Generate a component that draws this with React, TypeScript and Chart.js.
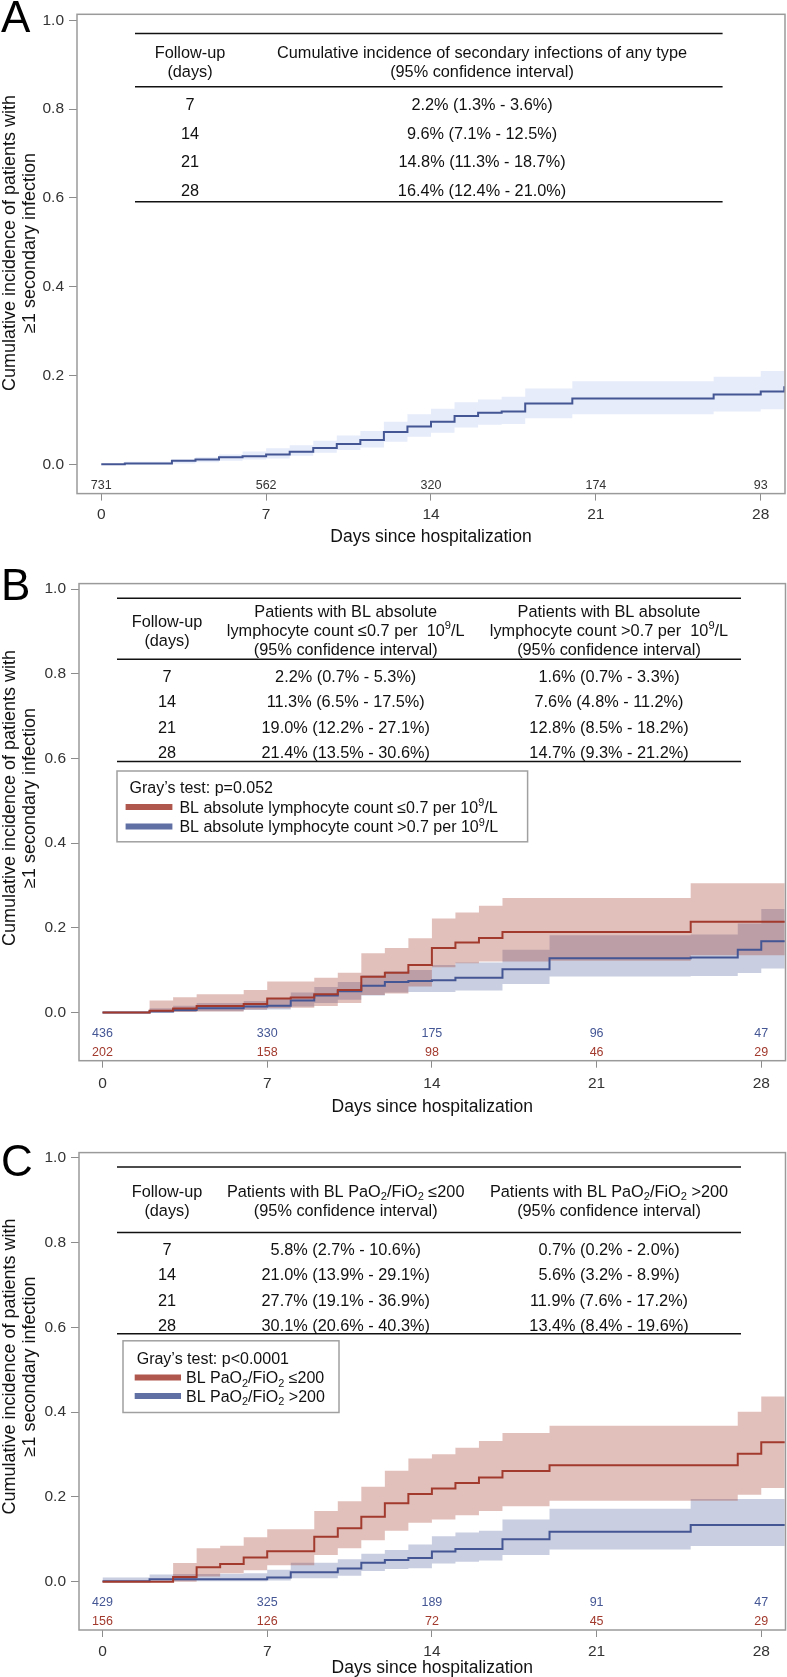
import React, { useEffect, useRef } from 'react';
import { Chart, registerables } from 'chart.js';
Chart.register(...registerables);

const FONT = '"Liberation Sans", Arial, Helvetica, sans-serif';
const BLUE = '#445694';
const RED = '#A23A2E';
const BLUE_BAND_A = 'rgba(80,120,210,0.14)';
const BLUE_BAND = 'rgba(68,86,148,0.29)';
const RED_BAND = 'rgba(162,58,46,0.32)';

const xTicks = [0, 7, 14, 21, 28];
const yTicks = [0, 0.2, 0.4, 0.6, 0.8, 1.0];

// ---------- Panel A ----------
const daysA = [0, 1, 3, 4, 5, 6, 7, 8, 9, 10, 11, 12, 13, 14, 15, 16, 17, 18, 20, 26, 28, 29];
const cifA = [0, 0.002, 0.008, 0.011, 0.016, 0.018, 0.022, 0.028, 0.037, 0.046, 0.055, 0.073, 0.085, 0.096, 0.109, 0.116, 0.119, 0.137, 0.148, 0.157, 0.164, 0.176];
const lowA = [0, 0, 0.002, 0.0045, 0.008, 0.011, 0.013, 0.019, 0.026, 0.032, 0.038, 0.051, 0.062, 0.071, 0.083, 0.089, 0.091, 0.104, 0.113, 0.119, 0.124, 0.13];
const upA = [0, 0.006, 0.011, 0.016, 0.022, 0.029, 0.036, 0.043, 0.053, 0.065, 0.075, 0.096, 0.113, 0.125, 0.14, 0.146, 0.152, 0.171, 0.187, 0.197, 0.21, 0.225];
const atRiskA = [731, 562, 320, 174, 93];

// ---------- Panel B ----------
const daysB = [0, 2, 3, 4, 6, 7, 8, 9, 10, 11, 12, 13, 14, 15, 16, 17, 19, 25, 27, 28, 29];
const cifBLow = [0, 0.004, 0.009, 0.015, 0.02, 0.033, 0.035, 0.043, 0.053, 0.084, 0.094, 0.112, 0.152, 0.165, 0.176, 0.19, 0.19, 0.214, 0.214, 0.214, 0.214];
const loBLow = [0, 0.001, 0.001, 0.002, 0.007, 0.01, 0.011, 0.015, 0.022, 0.041, 0.045, 0.061, 0.107, 0.116, 0.12, 0.12, 0.122, 0.135, 0.135, 0.135, 0.135];
const hiBLow = [0, 0.028, 0.036, 0.043, 0.053, 0.073, 0.073, 0.082, 0.094, 0.14, 0.152, 0.175, 0.222, 0.236, 0.252, 0.27, 0.27, 0.305, 0.305, 0.305, 0.305];
const cifBHigh = [0, 0.002, 0.006, 0.01, 0.014, 0.016, 0.028, 0.04, 0.05, 0.063, 0.072, 0.074, 0.076, 0.082, 0.082, 0.102, 0.128, 0.13, 0.148, 0.168, 0.168];
const loBHigh = [0, 0, 0.001, 0.003, 0.006, 0.007, 0.014, 0.022, 0.03, 0.04, 0.047, 0.048, 0.048, 0.052, 0.052, 0.067, 0.085, 0.086, 0.093, 0.104, 0.104];
const hiBHigh = [0, 0.01, 0.016, 0.022, 0.027, 0.033, 0.047, 0.06, 0.072, 0.088, 0.097, 0.1, 0.112, 0.118, 0.118, 0.148, 0.182, 0.184, 0.21, 0.244, 0.244];
const atRiskBHigh = [436, 330, 175, 96, 47];
const atRiskBLow = [202, 158, 98, 46, 29];

// ---------- Panel C ----------
const daysC = [0, 2, 3, 4, 5, 6, 7, 8, 9, 10, 11, 12, 13, 14, 15, 16, 17, 19, 25, 27, 28, 29];
const cifCLow = [0, 0, 0.011, 0.034, 0.042, 0.057, 0.072, 0.072, 0.106, 0.126, 0.153, 0.185, 0.207, 0.22, 0.233, 0.246, 0.261, 0.275, 0.275, 0.302, 0.329, 0.329];
const loCLow = [0, 0, 0, 0.012, 0.02, 0.027, 0.039, 0.039, 0.063, 0.079, 0.098, 0.12, 0.139, 0.147, 0.157, 0.167, 0.178, 0.191, 0.191, 0.205, 0.221, 0.221];
const hiCLow = [0, 0, 0.044, 0.079, 0.085, 0.105, 0.124, 0.124, 0.167, 0.19, 0.224, 0.262, 0.291, 0.301, 0.316, 0.332, 0.351, 0.368, 0.368, 0.401, 0.437, 0.437];
const cifCHigh = [0.001, 0.006, 0.006, 0.006, 0.006, 0.006, 0.01, 0.022, 0.022, 0.031, 0.045, 0.051, 0.056, 0.071, 0.077, 0.077, 0.1, 0.118, 0.134, 0.134, 0.134, 0.134];
const loCHigh = [0, 0, 0.001, 0.001, 0.001, 0.001, 0.003, 0.008, 0.008, 0.014, 0.025, 0.03, 0.032, 0.043, 0.047, 0.05, 0.063, 0.076, 0.084, 0.084, 0.084, 0.084];
const hiCHigh = [0.01, 0.017, 0.018, 0.018, 0.019, 0.02, 0.028, 0.045, 0.045, 0.053, 0.066, 0.075, 0.088, 0.107, 0.116, 0.12, 0.147, 0.172, 0.195, 0.195, 0.195, 0.195];
const atRiskCHigh = [429, 325, 189, 91, 47];
const atRiskCLow = [156, 126, 72, 45, 29];

// ---------- Tables ----------
const followUp = ['7', '14', '21', '28'];
const tableA = ['2.2% (1.3% - 3.6%)', '9.6% (7.1% - 12.5%)', '14.8% (11.3% - 18.7%)', '16.4% (12.4% - 21.0%)'];
const tableBLow = ['2.2% (0.7% - 5.3%)', '11.3% (6.5% - 17.5%)', '19.0% (12.2% - 27.1%)', '21.4% (13.5% - 30.6%)'];
const tableBHigh = ['1.6% (0.7% - 3.3%)', '7.6% (4.8% - 11.2%)', '12.8% (8.5% - 18.2%)', '14.7% (9.3% - 21.2%)'];
const tableCLow = ['5.8% (2.7% - 10.6%)', '21.0% (13.9% - 29.1%)', '27.7% (19.1% - 36.9%)', '30.1% (20.6% - 40.3%)'];
const tableCHigh = ['0.7% (0.2% - 2.0%)', '5.6% (3.2% - 8.9%)', '11.9% (7.6% - 17.2%)', '13.4% (8.4% - 19.6%)'];

const yTitle = ['Cumulative incidence of patients with', '\u22651 secondary infection'];
const xTitle = 'Days since hospitalization';

type Seg = { text: string; kind: 'n' | 'sup' | 'sub' };
function parseRich(s: string): Seg[] {
  const out: Seg[] = [];
  const re = /([\^_])\{([^}]*)\}/g;
  let last = 0;
  let m: RegExpExecArray | null;
  while ((m = re.exec(s))) {
    if (m.index > last) out.push({ text: s.slice(last, m.index), kind: 'n' });
    out.push({ text: m[2], kind: m[1] === '^' ? 'sup' : 'sub' });
    last = re.lastIndex;
  }
  if (last < s.length) out.push({ text: s.slice(last), kind: 'n' });
  return out;
}

function drawRich(ctx: CanvasRenderingContext2D, s: string, x: number, y: number, size: number, align: 'left' | 'center', color: string) {
  const segs = parseRich(s);
  const small = size * 0.68;
  const widths = segs.map((g) => {
    ctx.font = `${g.kind === 'n' ? size : small}px ${FONT}`;
    return ctx.measureText(g.text).width;
  });
  const total = widths.reduce((a, b) => a + b, 0);
  let cx = align === 'center' ? x - total / 2 : x;
  ctx.fillStyle = color;
  ctx.textAlign = 'left';
  ctx.textBaseline = 'alphabetic';
  const base = y + size * 0.36;
  segs.forEach((g, i) => {
    ctx.font = `${g.kind === 'n' ? size : small}px ${FONT}`;
    const dy = g.kind === 'sup' ? -size * 0.4 : g.kind === 'sub' ? size * 0.22 : 0;
    ctx.fillText(g.text, cx, base + dy);
    cx += widths[i];
  });
}

interface Series { days: number[]; cif: number[]; lo: number[]; hi: number[]; color: string; band: string }
interface TableCfg {
  rules: number[]; x0: number; x1: number;
  colX: number[];
  headers: { lines: string[]; ys: number[] }[];
  rowYs: number[];
  cols: string[][];
}
interface LegendCfg { box: [number, number, number, number]; title: string; titleY: number; titleX: number; swX: [number, number]; textX: number; items: { label: string; color: string; y: number }[] }
interface PanelCfg {
  letter: string; top: number; height: number; frameTop: number; frameBottom: number; padRight: number; yAxisW: number;
  xMin: number; xMax: number; yMin: number; yMax: number; xLabelPad: number;
  letterBaseline: number; yTitleCY: number; yTitleX: [number, number]; xTitleY: number;
  series: Series[];
  atRisk: { values: number[]; color: string; yv: number }[];
  table: TableCfg;
  legend: LegendCfg | null;
}

// all y positions below are page coordinates
const panels: PanelCfg[] = [
  {
    letter: 'A', top: 0, height: 548, frameTop: 14.3, frameBottom: 493.6, padRight: 2, yAxisW: 77,
    xMin: -1.03, xMax: 29.03, yMin: -0.066, yMax: 1.0137, xLabelPad: 4.5,
    letterBaseline: 32, yTitleCY: 243, yTitleX: [10, 30], xTitleY: 537,
    series: [{ days: daysA, cif: cifA, lo: lowA, hi: upA, color: BLUE, band: BLUE_BAND_A }],
    atRisk: [{ values: atRiskA, color: '#333333', yv: -0.047 }],
    table: {
      rules: [33.6, 86.8, 201.8], x0: 135, x1: 722.6, colX: [190, 482],
      headers: [
        { lines: ['Follow-up', '(days)'], ys: [51.8, 70.7] },
        { lines: ['Cumulative incidence of secondary infections of any type', '(95% confidence interval)'], ys: [51.8, 70.7] },
      ],
      rowYs: [104, 133, 161.4, 190],
      cols: [followUp, tableA],
    },
    legend: null,
  },
  {
    letter: 'B', top: 548, height: 575, frameTop: 583.6, frameBottom: 1060.7, padRight: 1.5, yAxisW: 79,
    xMin: -1.0, xMax: 29.03, yMin: -0.114, yMax: 1.0128, xLabelPad: 6.3,
    letterBaseline: 600, yTitleCY: 798, yTitleX: [10, 30], xTitleY: 1107,
    series: [
      { days: daysB, cif: cifBLow, lo: loBLow, hi: hiBLow, color: RED, band: RED_BAND },
      { days: daysB, cif: cifBHigh, lo: loBHigh, hi: hiBHigh, color: BLUE, band: BLUE_BAND },
    ],
    atRisk: [
      { values: atRiskBHigh, color: BLUE, yv: -0.05 },
      { values: atRiskBLow, color: RED, yv: -0.094 },
    ],
    table: {
      rules: [598.2, 659.3, 761.4], x0: 117, x1: 741, colX: [167, 345.7, 609],
      headers: [
        { lines: ['Follow-up', '(days)'], ys: [620.7, 640] },
        { lines: ['Patients with BL absolute', 'lymphocyte count \u22640.7 per  10^{9}/L', '(95% confidence interval)'], ys: [610.7, 630, 649.3] },
        { lines: ['Patients with BL absolute', 'lymphocyte count >0.7 per  10^{9}/L', '(95% confidence interval)'], ys: [610.7, 630, 649.3] },
      ],
      rowYs: [675.7, 701.4, 726.8, 752.5],
      cols: [followUp, tableBLow, tableBHigh],
    },
    legend: {
      box: [117, 771, 527.6, 841.8], title: "Gray\u2019s test: p=0.052", titleX: 129.6, titleY: 787.5,
      swX: [125.6, 172.4], textX: 179.4,
      items: [
        { label: 'BL absolute lymphocyte count \u22640.7 per 10^{9}/L', color: RED, y: 807 },
        { label: 'BL absolute lymphocyte count >0.7 per 10^{9}/L', color: BLUE, y: 826.4 },
      ],
    },
  },
  {
    letter: 'C', top: 1123, height: 554, frameTop: 1152.6, frameBottom: 1630, padRight: 1.5, yAxisW: 79,
    xMin: -1.0, xMax: 29.03, yMin: -0.114, yMax: 1.0127, xLabelPad: 5,
    letterBaseline: 1176, yTitleCY: 1366.5, yTitleX: [10, 30], xTitleY: 1668,
    series: [
      { days: daysC, cif: cifCLow, lo: loCLow, hi: hiCLow, color: RED, band: RED_BAND },
      { days: daysC, cif: cifCHigh, lo: loCHigh, hi: hiCHigh, color: BLUE, band: BLUE_BAND },
    ],
    atRisk: [
      { values: atRiskCHigh, color: BLUE, yv: -0.0496 },
      { values: atRiskCLow, color: RED, yv: -0.093 },
    ],
    table: {
      rules: [1166.9, 1232.4, 1333.8], x0: 117, x1: 741, colX: [167, 345.7, 609],
      headers: [
        { lines: ['Follow-up', '(days)'], ys: [1190.8, 1210.3] },
        { lines: ['Patients with BL PaO_{2}/FiO_{2} \u2264200', '(95% confidence interval)'], ys: [1190.8, 1210.3] },
        { lines: ['Patients with BL PaO_{2}/FiO_{2} >200', '(95% confidence interval)'], ys: [1190.8, 1210.3] },
      ],
      rowYs: [1248.9, 1274.6, 1300.4, 1325],
      cols: [followUp, tableCLow, tableCHigh],
    },
    legend: {
      box: [123, 1340.8, 339, 1412.5], title: "Gray\u2019s test: p<0.0001", titleX: 136.7, titleY: 1358,
      swX: [134.7, 181], textX: 186,
      items: [
        { label: 'BL PaO_{2}/FiO_{2} \u2264200', color: RED, y: 1377.6 },
        { label: 'BL PaO_{2}/FiO_{2} >200', color: BLUE, y: 1396 },
      ],
    },
  },
];

function PanelChart({ cfg }: { cfg: PanelCfg }) {
  const ref = useRef<HTMLCanvasElement | null>(null);
  useEffect(() => {
    const canvas = ref.current;
    if (!canvas) return;
    const T = cfg.top;
    const datasets: any[] = [];
    cfg.series.forEach((s) => {
      datasets.push({
        data: s.days.map((d, i) => ({ x: d, y: s.hi[i] })),
        stepped: 'before', pointRadius: 0, borderWidth: 1, borderColor: 'rgba(0,0,0,0)', fill: false,
      });
      datasets.push({
        data: s.days.map((d, i) => ({ x: d, y: s.lo[i] })),
        stepped: 'before', pointRadius: 0, borderWidth: 1, borderColor: 'rgba(0,0,0,0)', fill: '-1', backgroundColor: s.band,
      });
    });
    cfg.series.forEach((s) => {
      datasets.push({
        data: s.days.map((d, i) => ({ x: d, y: s.cif[i] })),
        stepped: 'before', pointRadius: 0, borderWidth: 2, borderColor: s.color, fill: false,
      });
    });

    const overlay = {
      id: 'overlay',
      afterDraw(chart: any) {
        const ctx: CanvasRenderingContext2D = chart.ctx;
        const ca = chart.chartArea;
        const xs = chart.scales.x;
        const ys = chart.scales.y;
        ctx.save();
        // frame
        ctx.strokeStyle = '#9a9a9a';
        ctx.lineWidth = 1.5;
        ctx.strokeRect(ca.left, ca.top, ca.right - ca.left, ca.bottom - ca.top);
        // letter
        ctx.fillStyle = '#000';
        ctx.font = `44px ${FONT}`;
        ctx.textAlign = 'left';
        ctx.textBaseline = 'alphabetic';
        ctx.fillText(cfg.letter, 1, cfg.letterBaseline - T);
        // y title
        ctx.font = `18px ${FONT}`;
        ctx.fillStyle = '#111';
        yTitle.forEach((t, i) => {
          ctx.save();
          ctx.translate(cfg.yTitleX[i], cfg.yTitleCY - T);
          ctx.rotate(-Math.PI / 2);
          ctx.textAlign = 'center';
          ctx.textBaseline = 'middle';
          ctx.fillText(t, 0, 0);
          ctx.restore();
        });
        // x title
        ctx.font = `17.5px ${FONT}`;
        ctx.textAlign = 'center';
        ctx.textBaseline = 'middle';
        ctx.fillText(xTitle, (ca.left + ca.right) / 2, cfg.xTitleY - T);
        // at risk
        ctx.font = `12.5px ${FONT}`;
        cfg.atRisk.forEach((r) => {
          ctx.fillStyle = r.color;
          const py = ys.getPixelForValue(r.yv);
          r.values.forEach((v, i) => {
            ctx.fillText(String(v), xs.getPixelForValue(xTicks[i]), py);
          });
        });
        // table
        const tb = cfg.table;
        ctx.strokeStyle = '#111';
        ctx.lineWidth = 1.5;
        tb.rules.forEach((ry) => {
          ctx.beginPath();
          ctx.moveTo(tb.x0, ry - T);
          ctx.lineTo(tb.x1, ry - T);
          ctx.stroke();
        });
        tb.headers.forEach((h, ci) => {
          h.lines.forEach((ln, li) => drawRich(ctx, ln, tb.colX[ci], h.ys[li] - T, 16.3, 'center', '#111'));
        });
        tb.cols.forEach((col, ci) => {
          col.forEach((val, ri) => drawRich(ctx, val, tb.colX[ci], tb.rowYs[ri] - T, 16.3, 'center', '#111'));
        });
        // legend
        const lg = cfg.legend;
        if (lg) {
          ctx.strokeStyle = '#a0a0a0';
          ctx.lineWidth = 1.5;
          ctx.fillStyle = '#fff';
          ctx.fillRect(lg.box[0], lg.box[1] - T, lg.box[2] - lg.box[0], lg.box[3] - lg.box[1]);
          ctx.strokeRect(lg.box[0], lg.box[1] - T, lg.box[2] - lg.box[0], lg.box[3] - lg.box[1]);
          drawRich(ctx, lg.title, lg.titleX, lg.titleY - T, 16, 'left', '#111');
          lg.items.forEach((it) => {
            ctx.strokeStyle = it.color;
            ctx.globalAlpha = 0.85;
            ctx.lineWidth = 6;
            ctx.beginPath();
            ctx.moveTo(lg.swX[0], it.y - T);
            ctx.lineTo(lg.swX[1], it.y - T);
            ctx.stroke();
            ctx.globalAlpha = 1;
            drawRich(ctx, it.label, lg.textX, it.y - T, 16, 'left', '#111');
          });
        }
        ctx.restore();
      },
    };

    const chart = new Chart(canvas, {
      type: 'line',
      data: { datasets },
      options: {
        responsive: false,
        animation: false,
        devicePixelRatio: 1,
        events: [],
        layout: { padding: { top: cfg.frameTop - T, right: cfg.padRight, left: 0, bottom: 0 } },
        plugins: {
          legend: { display: false },
          tooltip: { enabled: false },
          filler: { drawTime: 'beforeDatasetsDraw' },
        } as any,
        scales: {
          x: {
            type: 'linear', min: cfg.xMin, max: cfg.xMax,
            afterBuildTicks: (s: any) => { s.ticks = xTicks.map((v) => ({ value: v })); },
            afterFit: (s: any) => { s.height = T + cfg.height - cfg.frameBottom; },
            ticks: { font: { family: FONT, size: 15.5 }, color: '#333', padding: cfg.xLabelPad, maxRotation: 0, autoSkip: false, callback: (v: any) => String(v) },
            grid: { drawOnChartArea: false, drawTicks: true, tickLength: 7, color: '#8c8c8c', lineWidth: 1 },
            border: { display: false },
          },
          y: {
            type: 'linear', min: cfg.yMin, max: cfg.yMax,
            afterBuildTicks: (s: any) => { s.ticks = yTicks.map((v) => ({ value: v })); },
            afterFit: (s: any) => { s.width = cfg.yAxisW; },
            ticks: { font: { family: FONT, size: 15.5 }, color: '#333', padding: 5, callback: (v: any) => Number(v).toFixed(1) },
            grid: { drawOnChartArea: false, drawTicks: true, tickLength: 8, color: '#8c8c8c', lineWidth: 1 },
            border: { display: false },
          },
        },
      } as any,
      plugins: [overlay],
    });
    return () => chart.destroy();
  }, [cfg]);
  return (
    <canvas
      ref={ref}
      width={787}
      height={cfg.height}
      style={{ position: 'absolute', left: 0, top: cfg.top, width: 787, height: cfg.height, display: 'block' }}
    />
  );
}

export default function App() {
  return (
    <div style={{ position: 'absolute', left: 0, top: 0, width: 787, height: 1677, background: '#fff' }}>
      {panels.map((p) => (
        <PanelChart key={p.letter} cfg={p} />
      ))}
    </div>
  );
}
